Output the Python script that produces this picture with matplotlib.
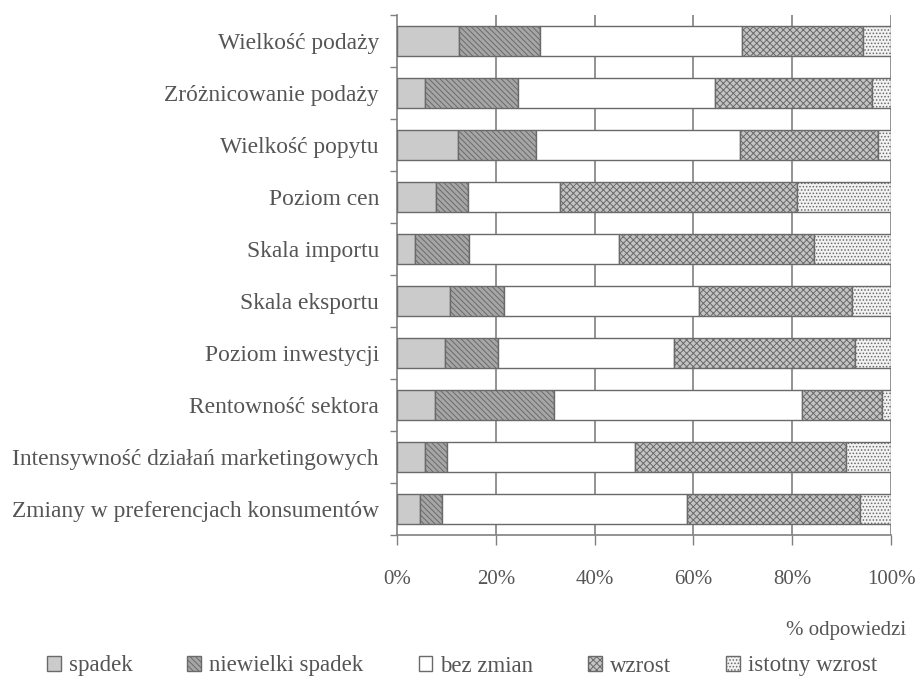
import matplotlib
matplotlib.use("Agg")

import matplotlib.pyplot as plt
import numpy as np

# Survey categories (top to bottom) and answer shares in percent
categories = [
    "Wielkość podaży",
    "Zróżnicowanie podaży",
    "Wielkość popytu",
    "Poziom cen",
    "Skala importu",
    "Skala eksportu",
    "Poziom inwestycji",
    "Rentowność sektora",
    "Intensywność działań marketingowych",
    "Zmiany w preferencjach konsumentów",
]
series_names = ["spadek", "niewielki spadek", "bez zmian", "wzrost", "istotny wzrost"]

spadek = [12.6, 5.7, 12.3, 7.8, 3.7, 10.8, 9.8, 7.6, 5.6, 4.6]
niewielki_spadek = [16.4, 18.8, 15.8, 6.6, 10.8, 10.8, 10.6, 24.1, 4.5, 4.5]
bez_zmian = [40.8, 39.9, 41.4, 18.5, 30.5, 39.6, 35.6, 50.3, 38.1, 49.7]
wzrost = [24.5, 31.8, 27.9, 48.1, 39.5, 30.8, 36.8, 16.2, 42.6, 35.0]
istotny_wzrost = [5.7, 3.8, 2.6, 19.0, 15.5, 8.0, 7.2, 1.8, 9.2, 6.2]

xticks = [0, 20, 40, 60, 80, 100]
xtick_labels = ["0%", "20%", "40%", "60%", "80%", "100%"]

# fill / hatch per series
styles = [
    dict(facecolor="#cbcbcb", hatch=None),
    dict(facecolor="#a6a6a6", hatch="\\\\\\\\\\\\"),
    dict(facecolor="white", hatch=None),
    dict(facecolor="#c4c4c4", hatch="xxxxx"),
    dict(facecolor="#f2f2f2", hatch="....."),
]

text_color = "#555555"
line_color = "#808080"
plt.rcParams["font.family"] = ["Liberation Serif", "DejaVu Serif"]
plt.rcParams["hatch.linewidth"] = 0.7

fig = plt.figure(figsize=(9.15, 6.83), dpi=100)
ax = fig.add_axes([0.4339, 0.2167, 0.5399, 0.761])

values = [spadek, niewielki_spadek, bez_zmian, wzrost, istotny_wzrost]
y = np.arange(len(categories))
left = np.zeros(len(categories))
handles = []
for name, vals, st in zip(series_names, values, styles):
    vals = np.array(vals)
    h = ax.barh(y, vals, left=left, height=0.58, facecolor=st["facecolor"],
                hatch=st["hatch"], edgecolor="#6a6a6a", linewidth=1.0,
                label=name, zorder=3)
    handles.append(h)
    left += vals

ax.set_xlim(0, 100)
ax.set_ylim(len(categories) - 0.5, -0.5)

# vertical grid behind the bars
for xv in xticks[1:]:
    ax.axvline(xv, color=line_color, linewidth=1.2, zorder=1)

ax.set_xticks(xticks)
ax.set_xticklabels(xtick_labels)
ax.set_yticks(y)
ax.set_yticklabels(categories)
ax.set_yticks(np.arange(len(categories) + 1) - 0.5, minor=True)
ax.tick_params(axis="y", which="major", length=0, pad=13,
               labelsize=16.9, labelcolor=text_color)
ax.tick_params(axis="y", which="minor", length=5, width=1.0, color=line_color)
ax.tick_params(axis="x", length=7, width=1.0, color=line_color, pad=18,
               labelsize=15, labelcolor=text_color)

for side in ["top", "right"]:
    ax.spines[side].set_visible(False)
for side in ["left", "bottom"]:
    ax.spines[side].set_color(line_color)
    ax.spines[side].set_linewidth(1.2)

fig.text(0.99, 1 - 630 / 683, "% odpowiedzi", ha="right", va="center",
         fontsize=15, color=text_color)

leg = fig.legend(handles=handles, loc="center", ncol=5, frameon=False,
                 bbox_to_anchor=(0.505, 1 - 666 / 683), fontsize=16.5,
                 handlelength=0.6, handleheight=0.6, handletextpad=0.35,
                 columnspacing=2.4)
for t in leg.get_texts():
    t.set_color(text_color)

fig.savefig("out.png", dpi=100)
